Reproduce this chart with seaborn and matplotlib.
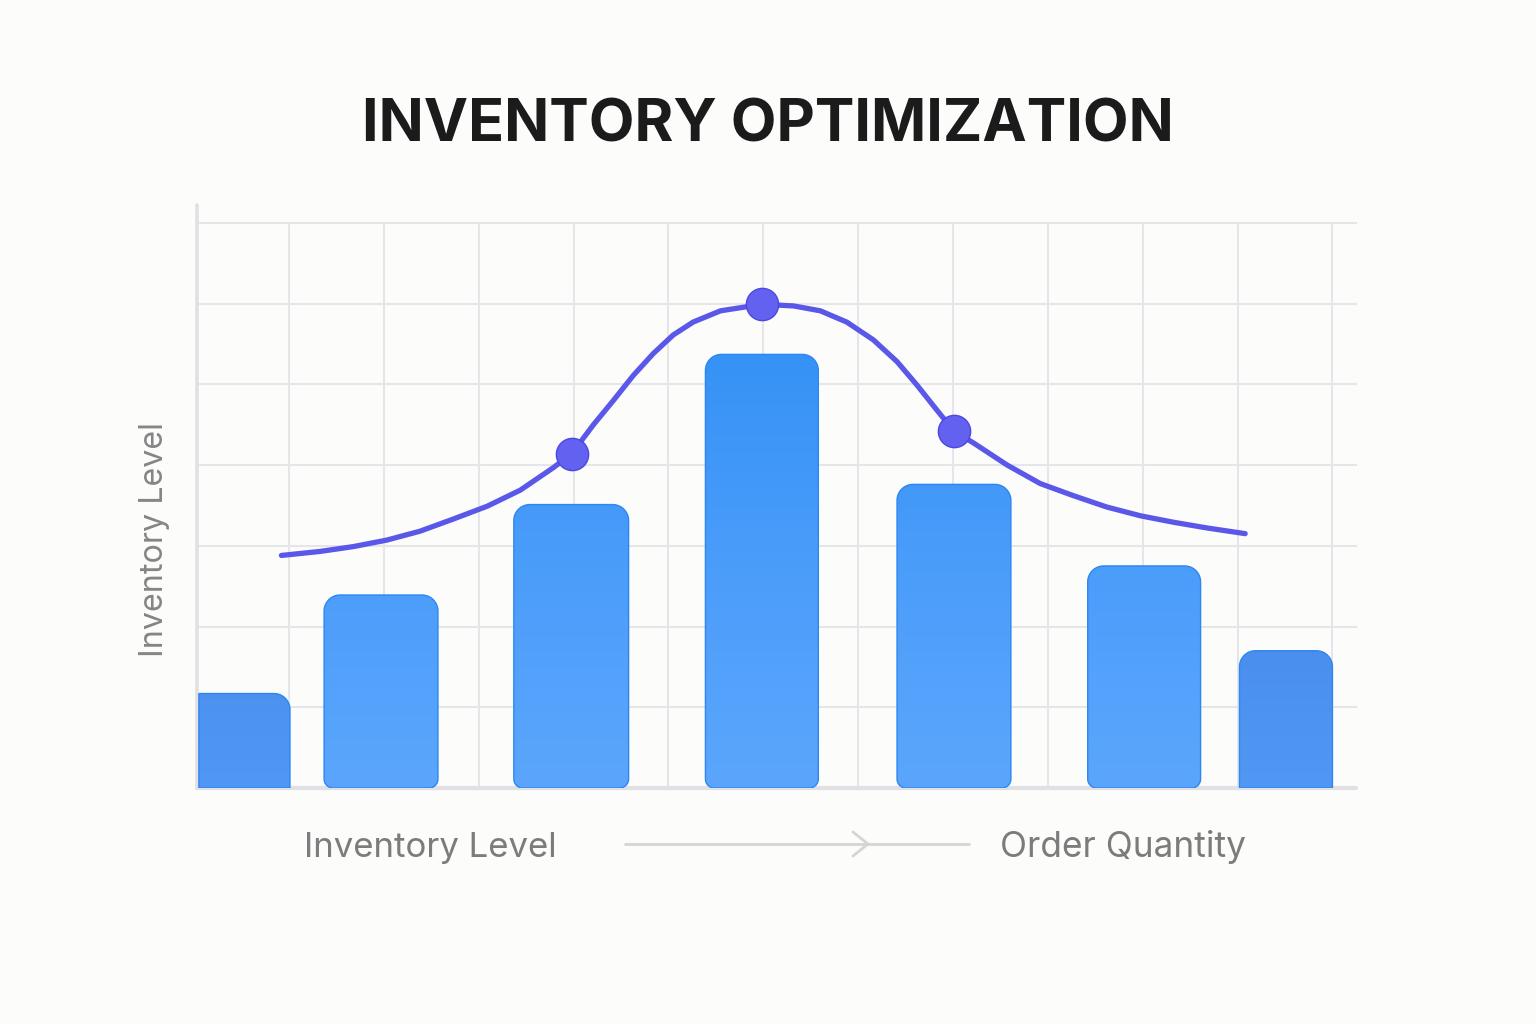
import numpy as np
import matplotlib
matplotlib.use("Agg")
import matplotlib.pyplot as plt
import pandas as pd
import seaborn as sns
from matplotlib.path import Path
from matplotlib.patches import PathPatch
from matplotlib.lines import Line2D
from matplotlib.colors import LinearSegmentedColormap

# ---------------- data ----------------
bar_left = [0.05, 1.37, 3.37, 5.39, 7.41, 9.42, 11.02]
bar_right = [1.01, 2.57, 4.58, 6.58, 8.61, 10.61, 12.00]
bar_values = [1.17, 2.39, 3.51, 5.37, 3.76, 2.75, 1.70]

curve_x = [0.92, 1.33, 1.68, 2.03, 2.38, 2.73, 3.09, 3.44, 3.79, 3.98,
           4.21, 4.42, 4.63, 4.84, 5.05, 5.26, 5.55, 5.99,
           6.32, 6.60, 6.88, 7.16, 7.41, 7.62, 7.83, 8.01,
           8.22, 8.57, 8.92, 9.27, 9.62, 9.98, 10.33, 10.68, 11.08]
curve_y = [2.88, 2.93, 2.99, 3.07, 3.18, 3.33, 3.49, 3.69, 3.97, 4.14,
           4.50, 4.80, 5.11, 5.38, 5.61, 5.77, 5.91, 5.99,
           5.97, 5.91, 5.77, 5.55, 5.28, 4.99, 4.68, 4.42,
           4.27, 4.00, 3.77, 3.62, 3.48, 3.37, 3.29, 3.22, 3.15]

highlight_x = [3.98, 5.99, 8.01]
highlight_y = [4.14, 5.99, 4.42]

title = "INVENTORY OPTIMIZATION"
y_label = "Inventory Level"
x_label_left = "Inventory Level"
x_label_right = "Order Quantity"

# ---------------- style ----------------
sns.set_theme(style="white")
plt.rcParams["font.family"] = ["Inter", "DejaVu Sans"]

BG = "#fcfcfb"
GRID = "#e6e6ea"
AXIS = "#e1e1e3"
LINE = "#5a58e9"
MARK = "#6361f0"
MARK_EDGE = "#4b48e2"
EDGE = "#2c86f3"

W, H = 1536, 1024
fig = plt.figure(figsize=(W / 100, H / 100), dpi=100, facecolor=BG)
ax_l, ax_r, ax_b, ax_t = 197, 1359, 788, 205
ax = fig.add_axes([ax_l / W, 1 - ax_b / H, (ax_r - ax_l) / W, (ax_b - ax_t) / H])
ax.set_facecolor(BG)
XLIM = (0.03, 12.28)
YLIM = (0.0, 7.22)
ax.set_xlim(*XLIM)
ax.set_ylim(*YLIM)
for s in ax.spines.values():
    s.set_visible(False)
ax.set_xticks([])
ax.set_yticks([])

px_x = (ax_r - ax_l) / (XLIM[1] - XLIM[0])
px_y = (ax_b - ax_t) / (YLIM[1] - YLIM[0])

# grid
for gy in range(1, 8):
    ax.plot([XLIM[0], 12.26], [gy, gy], color=GRID, lw=1.5, zorder=0.5, solid_capstyle="butt")
for gx in range(1, 13):
    ax.plot([gx, gx], [0, 7], color=GRID, lw=1.5, zorder=0.5, solid_capstyle="butt")
# axis lines
ax.plot([XLIM[0], XLIM[0]], [0, 7.22], color=AXIS, lw=2.6, zorder=1, clip_on=False,
        solid_capstyle="round")
ax.plot([XLIM[0], 12.25], [0, 0], color=AXIS, lw=3.0, zorder=1, clip_on=False,
        solid_capstyle="round")


def bar_path(x0, x1, y0, y1, radii):
    # radii in px for corners bl, br, tr, tl
    verts = []
    specs = [
        (radii[0], lambda rx, ry: (x0 + rx, y0 + ry), (x0, y0), np.pi, 1.5 * np.pi),
        (radii[1], lambda rx, ry: (x1 - rx, y0 + ry), (x1, y0), 1.5 * np.pi, 2 * np.pi),
        (radii[2], lambda rx, ry: (x1 - rx, y1 - ry), (x1, y1), 0.0, 0.5 * np.pi),
        (radii[3], lambda rx, ry: (x0 + rx, y1 - ry), (x0, y1), 0.5 * np.pi, np.pi),
    ]
    for r, cfun, corner, a0, a1 in specs:
        if r <= 0:
            verts.append(corner)
        else:
            rx, ry = r / px_x, r / px_y
            cx, cy = cfun(rx, ry)
            for t in np.linspace(a0, a1, 14):
                verts.append((cx + rx * np.cos(t), cy + ry * np.sin(t)))
    verts.append(verts[0])
    codes = [Path.MOVETO] + [Path.LINETO] * (len(verts) - 2) + [Path.CLOSEPOLY]
    return Path(verts, codes)


cmap_main = LinearSegmentedColormap.from_list("m", ["#5ba6fc", "#4b9dfa", "#3692f6"])
cmap_side = LinearSegmentedColormap.from_list("s", ["#5098f3", "#4a8ded"])

n = len(bar_values)
for i, (x0, x1, v) in enumerate(zip(bar_left, bar_right, bar_values)):
    if i == 0:
        radii = (0, 0, 16, 0)
    elif i == n - 1:
        radii = (0, 0, 16, 16)
    else:
        radii = (9, 9, 16, 16)
    path = bar_path(x0, x1, 0.0, v, radii)
    patch = PathPatch(path, facecolor="none", edgecolor=EDGE, lw=1.0, zorder=3,
                      transform=ax.transData)
    ax.add_patch(patch)
    grad = np.linspace(0, v, 200).reshape(-1, 1)
    if i in (0, n - 1):
        im = ax.imshow(grad, extent=[x0, x1, 0, v], origin="lower", aspect="auto",
                       cmap=cmap_side, vmin=0, vmax=2.0, zorder=2, interpolation="bilinear")
    else:
        im = ax.imshow(grad, extent=[x0, x1, 0, v], origin="lower", aspect="auto",
                       cmap=cmap_main, vmin=0, vmax=5.4, zorder=2, interpolation="bilinear")
    im.set_clip_path(patch)

ax.set_xlim(*XLIM)
ax.set_ylim(*YLIM)

# curve + highlight points
curve_df = pd.DataFrame({"x": curve_x, "y": curve_y})
sns.lineplot(data=curve_df, x="x", y="y", ax=ax, color=LINE, lw=3.8, sort=False,
             zorder=4, solid_capstyle="round", solid_joinstyle="round")
pts_df = pd.DataFrame({"x": highlight_x, "y": highlight_y})
sns.scatterplot(data=pts_df, x="x", y="y", ax=ax, s=540, color=MARK,
                edgecolor=MARK_EDGE, linewidth=1.0, zorder=5)
ax.set_xlabel("")
ax.set_ylabel("")
ax.set_xlim(*XLIM)
ax.set_ylim(*YLIM)

# ---------------- texts ----------------
renderer = fig.canvas.get_renderer()


def fit_text(t, target_px, horizontal=True):
    for _ in range(3):
        bb = t.get_window_extent(renderer)
        cur = bb.width if horizontal else bb.height
        t.set_fontsize(t.get_fontsize() * target_px / cur)


t_title = fig.text(768 / W, 1 - 142 / H, title, ha="center", va="baseline",
                   fontsize=44, fontweight="bold", color="#1b1b1b")
fit_text(t_title, 812)

t_y = fig.text(163 / W, 1 - 539.5 / H, y_label, ha="center", va="baseline",
               rotation=90, rotation_mode="anchor", fontsize=20, color="#858585")
fit_text(t_y, 235, horizontal=False)

t_x1 = fig.text(430.5 / W, 1 - 857 / H, x_label_left, ha="center", va="baseline",
                fontsize=20, color="#7c7c7c")
fit_text(t_x1, 253)
t_x2 = fig.text(1123 / W, 1 - 857 / H, x_label_right, ha="center", va="baseline",
                fontsize=20, color="#7c7c7c")
fit_text(t_x2, 246)

# arrow between x labels
ARROW = "#d5d5d5"
fig.add_artist(Line2D([625 / W, 969 / W], [1 - 844 / H, 1 - 844 / H], color=ARROW,
                      lw=2.0, solid_capstyle="round", transform=fig.transFigure))
fig.add_artist(Line2D([853 / W, 868 / W, 853 / W],
                      [1 - 832 / H, 1 - 844 / H, 1 - 856 / H], color=ARROW, lw=2.0,
                      solid_capstyle="round", solid_joinstyle="round",
                      transform=fig.transFigure))

fig.savefig("out.png", dpi=100, facecolor=BG)
